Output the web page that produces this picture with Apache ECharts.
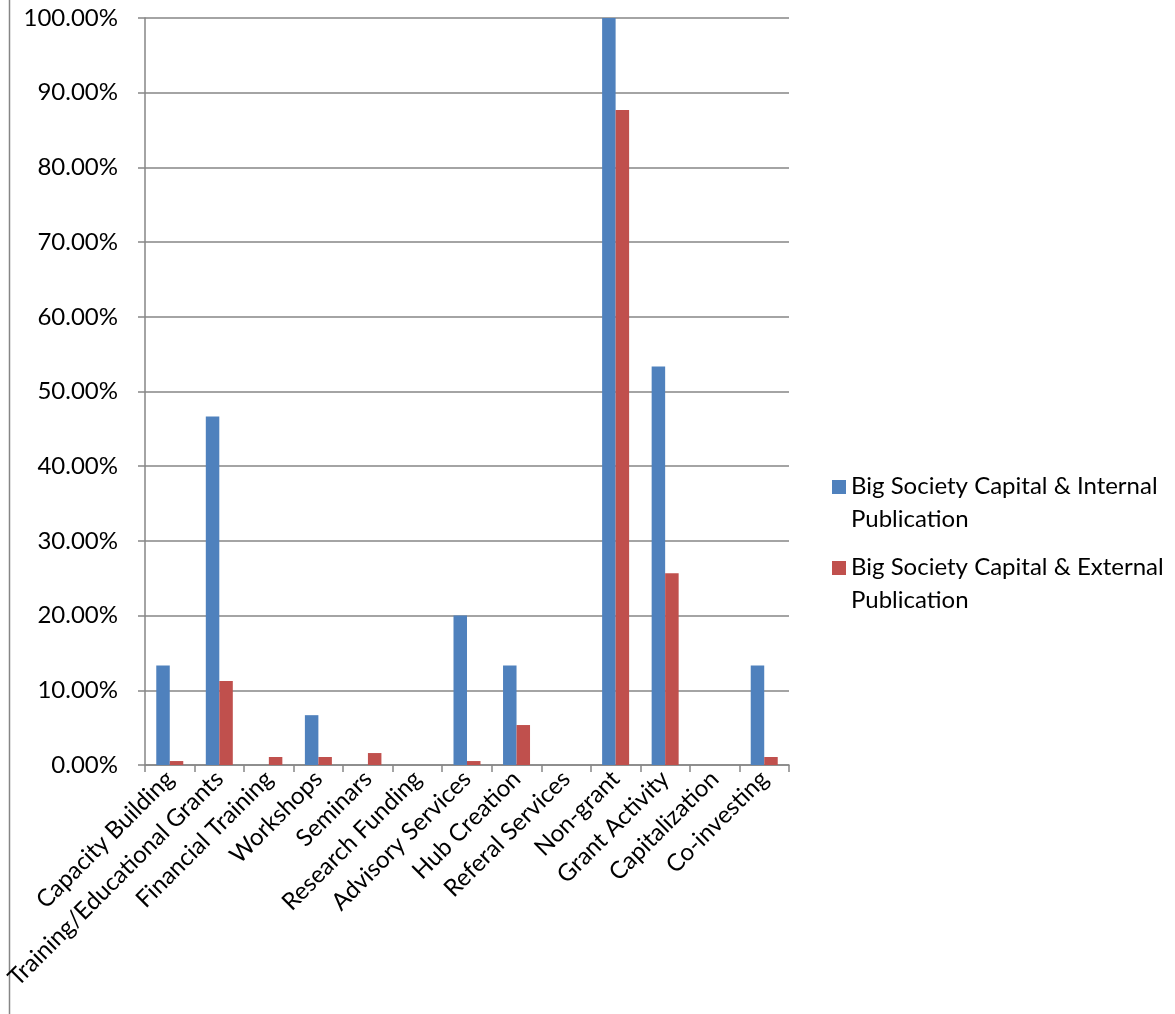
<!DOCTYPE html>
<html><head><meta charset="utf-8">
<script src="https://cdn.jsdelivr.net/npm/echarts@6/dist/echarts.min.js"></script>
<style>html,body{margin:0;padding:0;background:#fff}#c{width:1175px;height:1014px}</style>
</head><body><div id="c"></div>
<script>
var categories = ['Capacity Building','Training/Educational Grants','Financial Training','Workshops','Seminars','Research Funding','Advisory Services','Hub Creation','Referal Services','Non-grant','Grant Activity','Capitalization','Co-investing'];
var internalValues = [13.33, 46.67, 0, 6.67, 0, 0, 20.0, 13.33, 0, 100.0, 53.33, 0, 13.33];
var externalValues = [0.53, 11.23, 1.07, 1.07, 1.6, 0, 0.53, 5.35, 0, 87.7, 25.67, 0, 1.07];
var seriesNames = ['Big Society Capital & Internal\nPublication', 'Big Society Capital & External\nPublication'];
var FONT = 'Lato';
var chart = echarts.init(document.getElementById('c'), null, {renderer:'canvas'});
chart.setOption({
  animation:false,
  backgroundColor:'#fff',
  textStyle:{fontFamily:FONT},
  grid:{left:145, right:386, top:18, bottom:249, containLabel:false},
  legend:{
    orient:'vertical', left:827, top:465, itemWidth:14, itemHeight:46, itemGap:15,
    icon:'path://M0,0L14,0L14,14L0,14Z M0,46L0.01,46',
    textStyle:{fontFamily:FONT, fontSize:24, color:'#000', lineHeight:33},
    data:seriesNames
  },
  xAxis:{
    type:'category', data:categories,
    axisLine:{lineStyle:{color:'#868686', width:1.5}},
    axisTick:{show:true, length:7, lineStyle:{color:'#868686', width:1.5}},
    axisLabel:{rotate:45, interval:0, fontFamily:FONT, fontSize:24, color:'#000', margin:10}
  },
  yAxis:{
    type:'value', min:0, max:100, interval:10,
    axisLine:{show:true, lineStyle:{color:'#868686', width:1.5}},
    axisTick:{show:true, length:7, lineStyle:{color:'#868686', width:1.5}},
    splitLine:{lineStyle:{color:'#868686', width:1.5}},
    axisLabel:{formatter:function(v){return v.toFixed(2)+'%';}, fontFamily:FONT, fontSize:24, color:'#000', margin:27}
  },
  graphic:[{type:'line', shape:{x1:9.5,y1:0,x2:9.5,y2:1014}, style:{stroke:'#868686', lineWidth:1.5}}],
  series:[
    {name:seriesNames[0], type:'bar', data:internalValues, barWidth:13.5, barGap:'0%', itemStyle:{color:'#4F81BD'}},
    {name:seriesNames[1], type:'bar', data:externalValues, barWidth:13.5, barGap:'0%', itemStyle:{color:'#C0504D'}}
  ]
});
</script></body></html>
